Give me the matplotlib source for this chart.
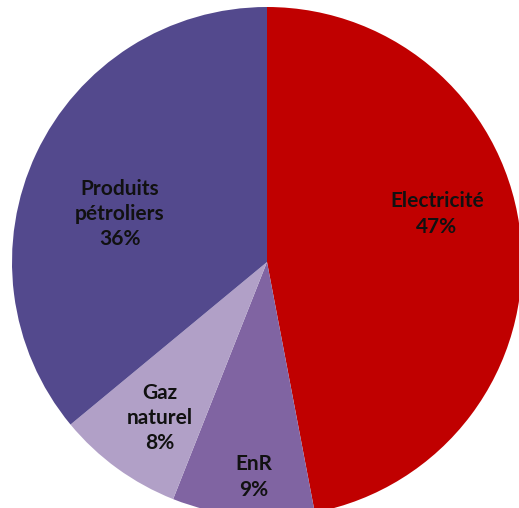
import matplotlib
matplotlib.use("Agg")
import matplotlib.pyplot as plt

categories = ["Electricité", "EnR", "Gaz naturel", "Produits pétroliers"]
values = [47, 9, 8, 36]
label_texts = ["Electricité\n47%", "EnR\n9%", "Gaz\nnaturel\n8%", "Produits\npétroliers\n36%"]
colors = ["#C00000", "#8064A2", "#B1A0C7", "#53498D"]

W, H = 519, 508
cx, cy, R = 267, 262, 255

fig = plt.figure(figsize=(W / 100, H / 100), dpi=100)
ax = fig.add_axes([0, 0, 1, 1])
ax.pie(values, colors=colors, startangle=90, counterclock=False, radius=1.0,
       wedgeprops=dict(linewidth=0))
ax.set_xlim(-cx / R, (W - cx) / R)
ax.set_ylim(-(H - cy) / R, cy / R)
ax.set_aspect("equal")
ax.axis("off")

# label positions in pixel coordinates (center of text block)
label_px = [(437, 214), (254, 477), (160, 418), (120, 214)]
for txt, (px, py) in zip(label_texts, label_px):
    ax.text((px - cx) / R, (cy - py) / R, txt, ha="center", va="center",
            fontsize=15, fontweight="bold", family=["Lato", "DejaVu Sans"],
            color="#111111", linespacing=1.32)

fig.savefig("out.png", dpi=100)
